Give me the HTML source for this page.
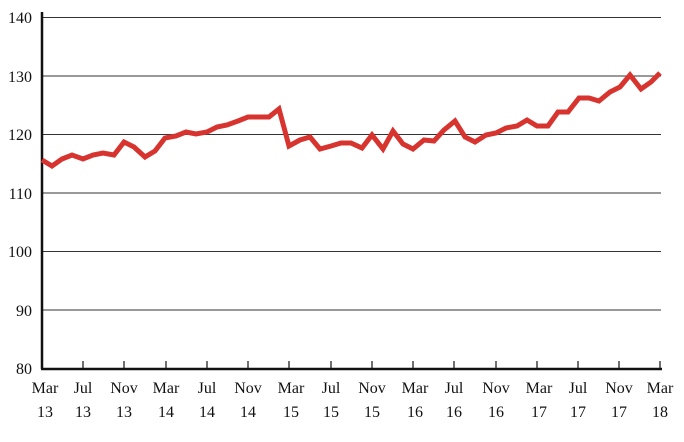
<!DOCTYPE html>
<html><head><style>body{margin:0;background:#fff}svg{display:block}</style></head><body>
<svg width="684" height="442" xmlns="http://www.w3.org/2000/svg" font-family="Liberation Serif, serif" font-size="16" fill="#111">
<g stroke="#333" stroke-width="1">
<line x1="42" y1="17.5" x2="661" y2="17.5"/>
<line x1="42" y1="76" x2="661" y2="76"/>
<line x1="42" y1="134.5" x2="661" y2="134.5"/>
<line x1="42" y1="193" x2="661" y2="193"/>
<line x1="42" y1="251.5" x2="661" y2="251.5"/>
<line x1="42" y1="310" x2="661" y2="310"/>
</g>
<g stroke="#111" stroke-width="2.5">
<line x1="42" y1="12" x2="42" y2="369"/>
<line x1="41" y1="369" x2="662" y2="369"/>
</g>
<g stroke="#111" stroke-width="1.2">
<line x1="83" y1="361" x2="83" y2="369"/><line x1="124" y1="361" x2="124" y2="369"/><line x1="166" y1="361" x2="166" y2="369"/><line x1="207" y1="361" x2="207" y2="369"/><line x1="248" y1="361" x2="248" y2="369"/><line x1="289" y1="361" x2="289" y2="369"/><line x1="331" y1="361" x2="331" y2="369"/><line x1="372" y1="361" x2="372" y2="369"/><line x1="413" y1="361" x2="413" y2="369"/><line x1="454" y1="361" x2="454" y2="369"/><line x1="496" y1="361" x2="496" y2="369"/><line x1="537" y1="361" x2="537" y2="369"/><line x1="578" y1="361" x2="578" y2="369"/><line x1="619" y1="361" x2="619" y2="369"/><line x1="660" y1="361" x2="660" y2="369"/>
</g>
<g text-anchor="end">
<text x="32" y="23">140</text><text x="32" y="82">130</text><text x="32" y="140">120</text><text x="32" y="199">110</text><text x="32" y="257">100</text><text x="32" y="316">90</text><text x="32" y="374">80</text>
</g>
<g text-anchor="middle">
<text x="45" y="393">Mar</text><text x="45" y="417">13</text>
<text x="83" y="393">Jul</text><text x="83" y="417">13</text>
<text x="124" y="393">Nov</text><text x="124" y="417">13</text>
<text x="166" y="393">Mar</text><text x="166" y="417">14</text>
<text x="207" y="393">Jul</text><text x="207" y="417">14</text>
<text x="248" y="393">Nov</text><text x="248" y="417">14</text>
<text x="291" y="393">Mar</text><text x="291" y="417">15</text>
<text x="331" y="393">Jul</text><text x="331" y="417">15</text>
<text x="372" y="393">Nov</text><text x="372" y="417">15</text>
<text x="415" y="393">Mar</text><text x="415" y="417">16</text>
<text x="454" y="393">Jul</text><text x="454" y="417">16</text>
<text x="496" y="393">Nov</text><text x="496" y="417">16</text>
<text x="539" y="393">Mar</text><text x="539" y="417">17</text>
<text x="578" y="393">Jul</text><text x="578" y="417">17</text>
<text x="619" y="393">Nov</text><text x="619" y="417">17</text>
<text x="660" y="393">Mar</text><text x="660" y="417">18</text>
</g>
<polyline fill="none" stroke="#d8342f" stroke-width="5" stroke-linejoin="miter" points="42,160 52,166 62,159 72,155 83,159 93,155 103,153 114,155 124,142 134,147 145,157 155,151 165,138 176,136 186,132 196,134 207,132 217,127 227,125 238,121 248,117 258,117 269,117 279,109 289,146 300,140 310,137 320,149 331,146 341,143 351,143 362,148 372,135 383,149 393,131 403,144 413,149 424,140 434,141 444,130 455,121 465,137 475,142 486,135 496,133 506,128 517,126 527,120 537,126 548,126 558,112 568,112 579,98 589,98 599,101 610,92 620,87 630,75 641,89 651,82 660,73"/>
</svg>
</body></html>
